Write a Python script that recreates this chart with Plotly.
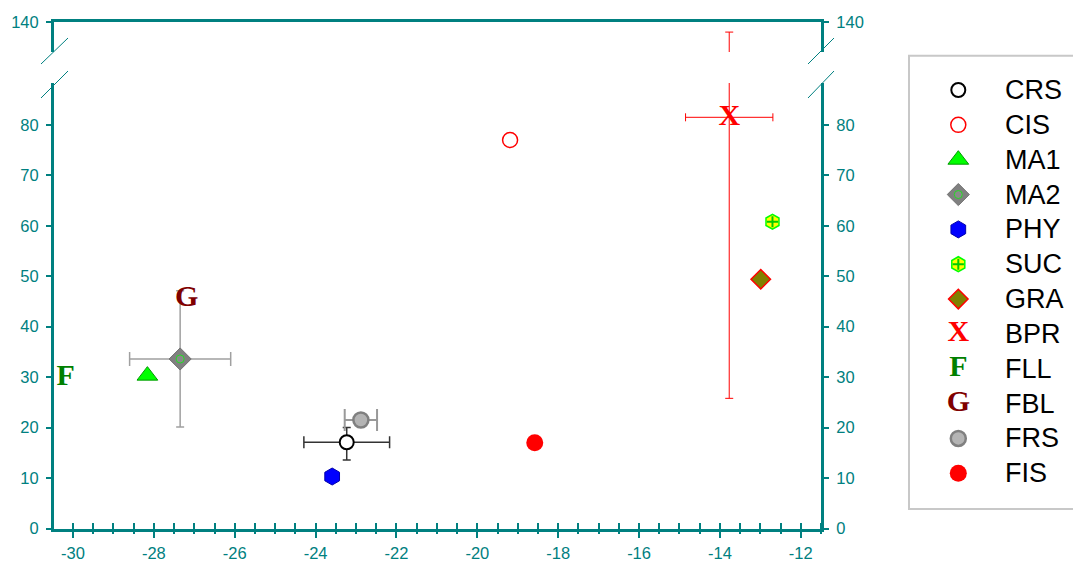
import plotly.graph_objects as go

# ---- data ---------------------------------------------------------------
names = ["CRS", "CIS", "MA1", "MA2", "PHY", "SUC", "GRA", "BPR", "FLL", "FBL", "FRS", "FIS"]
x_vals = [-23.23, -19.19, -28.16, -27.35, -23.59, -12.70, -12.99, -13.77, -30.18, -27.19, -22.88, -18.58]
y_vals = [17.1, 77.0, 30.3, 33.6, 10.3, 60.8, 49.4, 81.5, 29.9, 45.6, 21.5, 17.0]
x_err = [1.06, 0, 0, 1.25, 0, 0, 0, 1.08, 0, 0, 0.40, 0]
y_err_hi = [2.9, 0, 0, 13.5, 0, 0, 0, 56.5, 0, 0, 0, 0]
y_err_lo = [3.5, 0, 0, 13.5, 0, 0, 0, 55.7, 0, 0, 0, 0]

x_ticks = [-30, -28, -26, -24, -22, -20, -18, -16, -14, -12]
y_ticks_low = [0, 10, 20, 30, 40, 50, 60, 70, 80]
y_ticks_high = [140]

x_range = [-30.47, -11.5]
y_low_range = [0, 88.3]      # lower part of the broken axis
y_high_range = [134.05, 140]  # upper part of the broken axis

# ---- styles -------------------------------------------------------------
W, H = 1073, 564
TEAL = "#008080"
TICK_FONT = dict(family="Liberation Sans, Arial, sans-serif", size=16.5, color=TEAL)
LETTER_FONT = "Liberation Serif, Times New Roman, serif"

marker_styles = {
    "CRS": dict(symbol="circle", size=14, color="white", line=dict(color="black", width=2)),
    "CIS": dict(symbol="circle", size=15, color="white", line=dict(color="#ff0000", width=1.5)),
    "MA1": dict(symbol="triangle-up", size=18, color="#00ff00", line=dict(color="#009900", width=1)),
    "MA2": dict(symbol="diamond", size=17, color="#808080", line=dict(color="#707070", width=1)),
    "PHY": dict(symbol="hexagon", size=17, color="#0000ff", line=dict(color="#0000aa", width=1)),
    "SUC": dict(symbol="hexagon", size=15, color="#ffff00", line=dict(color="#00ff00", width=1.5)),
    "GRA": dict(symbol="diamond", size=15, color="#808000", line=dict(color="#ff0000", width=1.5)),
    "FRS": dict(symbol="circle", size=15, color="#b4b4b4", line=dict(color="#808080", width=2.5)),
    "FIS": dict(symbol="circle", size=17, color="#ff0000", line=dict(color="#ff0000", width=0)),
}
overlay_styles = {
    "MA2": dict(symbol="circle", size=8, color="#8a8a8a", line=dict(color="#22dd22", width=1)),
    "SUC": dict(symbol="cross-thin", size=8, color="#00cc00", line=dict(color="#00cc00", width=2)),
}
letter_styles = {
    "BPR": ("X", "#ff0000"),
    "FLL": ("F", "#008000"),
    "FBL": ("G", "#800000"),
}
error_styles = {
    "CRS": dict(color="#333333", thickness=1.5, wx=6, wy=4),
    "MA2": dict(color="#a0a0a0", thickness=1.5, wx=7, wy=4),
    "BPR": dict(color="#ff0000", thickness=1, wx=4, wy=4),
    "FRS": dict(color="#999999", thickness=2, wx=11, wy=4),
}


def series_trace(i, xs, ys, xaxis, yaxis, with_errors):
    name = names[i]
    kw = dict(x=xs, y=ys, xaxis=xaxis, yaxis=yaxis, showlegend=False,
              hoverinfo="skip", cliponaxis=(xaxis != "x3"))
    if name in letter_styles:
        letter, col = letter_styles[name]
        kw.update(mode="text", text=[letter] * len(xs), textposition="middle center",
                  textfont=dict(family=LETTER_FONT, size=30, color=col, weight="bold"))
    else:
        kw.update(mode="markers", marker=marker_styles[name])
    if with_errors and name in error_styles:
        es = error_styles[name]
        if x_err[i] > 0:
            kw["error_x"] = dict(type="data", array=[x_err[i]], color=es["color"],
                                 thickness=es["thickness"], width=es["wx"])
        if y_err_hi[i] > 0 or y_err_lo[i] > 0:
            kw["error_y"] = dict(type="data", symmetric=False, array=[y_err_hi[i]],
                                 arrayminus=[y_err_lo[i]], color=es["color"],
                                 thickness=es["thickness"], width=es["wy"])
    return go.Scatter(**kw)


fig = go.Figure()

# transparent copies of the data so the mirrored axes get a subplot of their own
for xa, ya in [("x", "y3"), ("x2", "y4"), ("x4", "y")]:
    fig.add_trace(go.Scatter(x=x_vals, y=y_vals, xaxis=xa, yaxis=ya, mode="markers",
                             marker=dict(color="rgba(0,0,0,0)", size=1),
                             showlegend=False, hoverinfo="skip"))

# main scatter (lower panel of the broken axis)
for i, name in enumerate(names):
    fig.add_trace(series_trace(i, [x_vals[i]], [y_vals[i]], "x", "y", True))
    if name in overlay_styles:
        fig.add_trace(go.Scatter(x=[x_vals[i]], y=[y_vals[i]], mode="markers",
                                 marker=overlay_styles[name], showlegend=False,
                                 hoverinfo="skip"))

# the part of the BPR error bar that reaches into the upper panel
b = names.index("BPR")
fig.add_trace(go.Scatter(
    x=[x_vals[b]], y=[y_vals[b]], xaxis="x2", yaxis="y2", mode="markers",
    marker=dict(color="rgba(0,0,0,0)", size=1), showlegend=False, hoverinfo="skip",
    error_y=dict(type="data", symmetric=False, array=[y_err_hi[b]], arrayminus=[y_err_lo[b]],
                 color=error_styles["BPR"]["color"], thickness=1, width=4)))

# legend panel: one key per series on a categorical axis
for i, name in enumerate(names):
    fig.add_trace(series_trace(i, [0], [name], "x3", "y5", False))
    if name in overlay_styles:
        fig.add_trace(go.Scatter(x=[0], y=[name], xaxis="x3", yaxis="y5", mode="markers",
                                 marker=overlay_styles[name], showlegend=False,
                                 hoverinfo="skip"))

annotations = [
    dict(x=45, y=i, xref="x3", yref="y5", text=name, showarrow=False, xanchor="left",
         yanchor="middle", font=dict(family="Liberation Sans, Arial, sans-serif", size=27,
                                     color="black"))
    for i, name in enumerate(names)
]

x_dom = [54 / W, 821 / W]
y_low_dom = [1 - 528.5 / H, 1 - 83 / H]
y_high_dom = [1 - 52 / H, 1 - 22 / H]

axis_line = dict(showline=True, linecolor=TEAL, linewidth=3, showgrid=False,
                 zeroline=False, automargin=False)
y_common = dict(axis_line, ticks="outside", ticklen=5, tickwidth=1.5, tickcolor=TEAL,
                tickfont=TICK_FONT, tickmode="array", ticklabelstandoff=4)


def px(x0, y0, x1, y1):
    return dict(type="line", xref="paper", yref="paper", x0=x0 / W, y0=1 - y0 / H,
                x1=x1 / W, y1=1 - y1 / H, line=dict(color=TEAL, width=1))


shapes = [
    # axis break marks
    px(41, 64, 68, 38), px(41, 98, 68, 71),
    px(808, 64, 834, 38), px(808, 98, 834, 71),
    # legend frame
    dict(type="rect", xref="paper", yref="paper", x0=909 / W, x1=1.02,
         y0=1 - 509 / H, y1=1 - 55.7 / H, line=dict(color="#c8c8c8", width=2),
         fillcolor="rgba(0,0,0,0)"),
]

hidden = dict(visible=False, automargin=False, showgrid=False, zeroline=False)

fig.update_layout(
    width=W, height=H, autosize=False,
    margin=dict(l=0, r=0, t=0, b=0, autoexpand=False),
    paper_bgcolor="white", plot_bgcolor="white",
    showlegend=False,
    xaxis=dict(axis_line, domain=x_dom, range=x_range, anchor="y",
               ticks="outside", ticklen=6, tickwidth=1.5, tickcolor=TEAL,
               tickmode="array", tickvals=x_ticks, ticktext=[str(v) for v in x_ticks],
               tickfont=TICK_FONT, ticklabelstandoff=2,
               minor=dict(dtick=0.5, tick0=0, ticks="inside", ticklen=6,
                          tickwidth=1.5, tickcolor=TEAL)),
    xaxis2=dict(axis_line, domain=x_dom, range=x_range, anchor="y2", side="top",
                ticks="", showticklabels=False),
    xaxis4=dict(domain=x_dom, range=x_range, anchor="y", overlaying="x",
                showline=False, showgrid=False, zeroline=False, automargin=False,
                ticks="", showticklabels=False,
                minor=dict(dtick=0.5, tick0=0, ticks="outside", ticklen=4,
                           tickwidth=1.5, tickcolor=TEAL)),
    yaxis=dict(y_common, domain=y_low_dom, range=y_low_range, anchor="x",
               tickvals=y_ticks_low, ticktext=[str(v) for v in y_ticks_low]),
    yaxis2=dict(y_common, domain=y_high_dom, range=y_high_range, anchor="x2",
                tickvals=y_ticks_high, ticktext=[str(v) for v in y_ticks_high]),
    yaxis3=dict(y_common, range=y_low_range, anchor="x", overlaying="y", side="right",
                tickvals=y_ticks_low, ticktext=[str(v) for v in y_ticks_low]),
    yaxis4=dict(y_common, range=y_high_range, anchor="x2", overlaying="y2", side="right",
                tickvals=y_ticks_high, ticktext=[str(v) for v in y_ticks_high]),
    xaxis3=dict(hidden, domain=[940 / W, 1], range=[-18.3, 114.7], anchor="y5"),
    yaxis5=dict(hidden, domain=[1 - 490.7 / H, 1 - 72.6 / H], type="category",
                categoryorder="array", categoryarray=names, range=[11.5, -0.5],
                anchor="x3"),
    annotations=annotations,
    shapes=shapes,
)

fig.write_html("out.html")
